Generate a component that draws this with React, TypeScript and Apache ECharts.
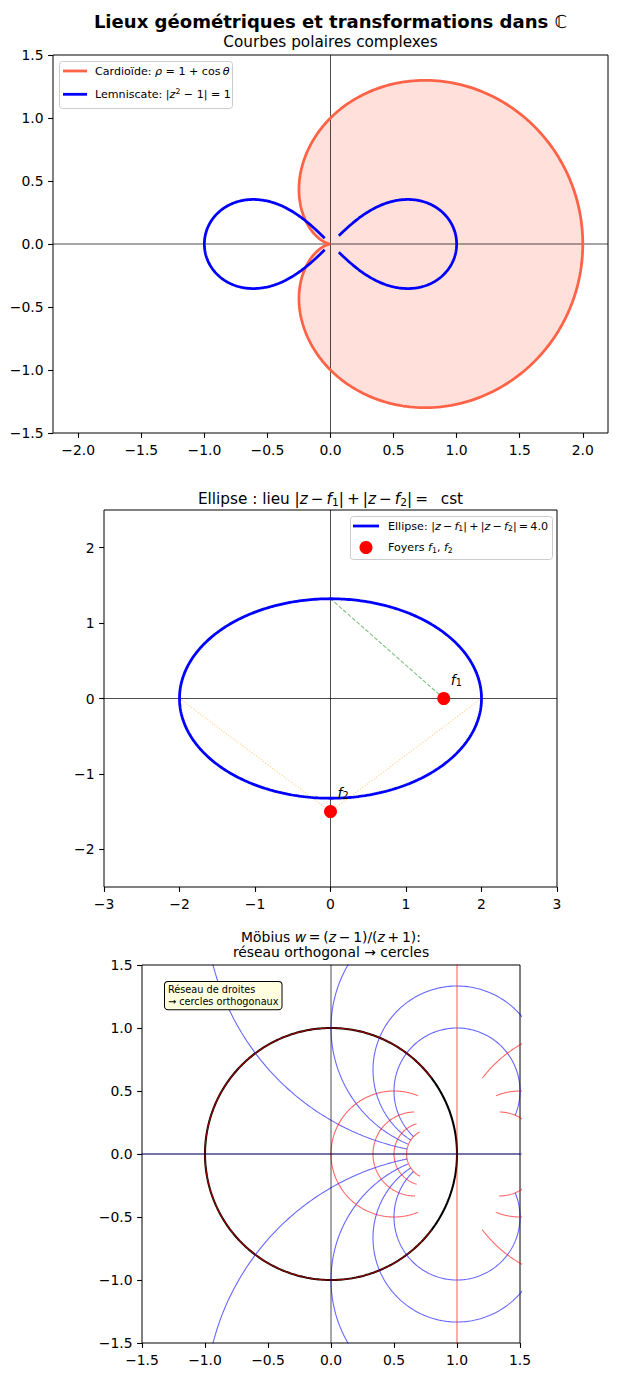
import React, { useEffect, useRef } from 'react';
import * as echarts from 'echarts';

const FONT = 'DejaVu Sans';
const TS = '\u2009'; // thin space used around math operators

// ---------------- Panel 1 : courbes polaires ----------------
const P1_X_RANGE = [-2.2, 2.2];
const P1_Y_RANGE = [-1.5, 1.5];
const P1_X_TICKS = [-2, -1.5, -1, -0.5, 0, 0.5, 1, 1.5, 2];
const P1_Y_TICKS = [-1.5, -1, -0.5, 0, 0.5, 1, 1.5];
const CARDIOID_COEF = [1, 1]; // rho = a + b cos(theta)
const LEMNISCATE_SCALE = 1; // rho^2 = s^2 cos(2 theta)
const LEMNISCATE_END_RADIUS = [0.093, 0.065]; // gap near origin: right lobe, left lobe

// ---------------- Panel 2 : ellipse ----------------
const P2_X_RANGE = [-3, 3];
const P2_Y_RANGE = [-2.5, 2.5];
const P2_X_TICKS = [-3, -2, -1, 0, 1, 2, 3];
const P2_Y_TICKS = [-2, -1, 0, 1, 2];
const ELLIPSE_FOCAL_HALF_DIST = 1.5; // drawn ellipse foci at ±1.5 on real axis
const ELLIPSE_SUM = 4.0;
const FOCI_LABELS = ['1', '2'];
const FOCI_X = [1.5, 0];
const FOCI_Y = [0, -1.5];
const ORANGE_ENDPOINTS_X = [-2, 2]; // dotted segments from these real points to f2

// ---------------- Panel 3 : Möbius ----------------
const P3_RANGE = [-1.5, 1.5];
const P3_TICKS = [-1.5, -1, -0.5, 0, 0.5, 1, 1.5];
const GRID_IM_VALUES = [-2, -1.5, -1, -0.5, 0, 0.5, 1, 1.5, 2]; // horizontal lines Im z = c
const GRID_IM_X_SPAN = [-4, 4];
const GRID_RE_VALUES = [-4, -3, -2, -1, 0, 1, 2, 3, 4]; // vertical lines Re z = c
const GRID_RE_Y_SPAN = [-3, 3];
const UNIT_CIRCLE_R = 1;

// ---------------- helpers ----------------
const linspace = (a: number, b: number, n: number) => {
  const out: number[] = [];
  for (let i = 0; i < n; i++) out.push(a + ((b - a) * i) / (n - 1));
  return out;
};
const fmt = (v: number, d: number) => (v < -1e-9 ? '−' : '') + Math.abs(v).toFixed(d);

const mobius = (x: number, y: number): [number, number] => {
  const d = (x + 1) * (x + 1) + y * y;
  return [(x * x + y * y - 1) / d, (2 * y) / d];
};

const cardioidPts: [number, number][] = linspace(0, 2 * Math.PI, 400).map((t) => {
  const r = CARDIOID_COEF[0] + CARDIOID_COEF[1] * Math.cos(t);
  return [r * Math.cos(t), r * Math.sin(t)];
});

const lemniscateLobe = (side: number, endR: number): [number, number][] => {
  const delta = Math.asin(Math.min(1, (endR / LEMNISCATE_SCALE) ** 2)) / 2;
  return linspace(-Math.PI / 4 + delta, Math.PI / 4 - delta, 300).map((t) => {
    const r = LEMNISCATE_SCALE * Math.sqrt(Math.max(0, Math.cos(2 * t)));
    return [side * r * Math.cos(t), r * Math.sin(t)];
  });
};

const ellA = ELLIPSE_SUM / 2;
const ellB = Math.sqrt(ellA * ellA - ELLIPSE_FOCAL_HALF_DIST ** 2);
const ellipsePts: [number, number][] = linspace(0, 2 * Math.PI, 400).map((t) => [
  ellA * Math.cos(t),
  ellB * Math.sin(t),
]);

const unitCircle: [number, number][] = linspace(0, 2 * Math.PI, 400).map((t) => [
  UNIT_CIRCLE_R * Math.cos(t),
  UNIT_CIRCLE_R * Math.sin(t),
]);

const txt = (size: number, extra: any = {}) => ({
  fontFamily: FONT,
  fontSize: size,
  lineHeight: Math.round(size * 1.2 * 10) / 10,
  fill: '#000',
  color: '#000',
  ...extra,
});
const richFor = (size: number, weight = 'normal') => {
  const lh = Math.round(size * 1.2 * 10) / 10;
  const base = { fontFamily: FONT, fontWeight: 'normal', fill: '#000', color: '#000' };
  return {
    i: { ...base, fontSize: size, lineHeight: lh, fontStyle: 'italic' },
    n: { ...base, fontSize: size, lineHeight: lh, fontWeight: weight },
    bb: { ...base, fontSize: size, lineHeight: lh },
    sub: { ...base, fontSize: size * 0.7, lineHeight: size * 0.78, verticalAlign: 'bottom' },
    sup: { ...base, fontSize: size * 0.7, lineHeight: size * 0.78, verticalAlign: 'top' },
  };
};
const op = (s: string) => TS + s + TS;

const makeAxis = (idx: number, range: number[], ticks: number[], dec: number, isX: boolean) => ({
  type: 'value',
  gridIndex: idx,
  min: range[0],
  max: range[1],
  position: isX ? 'bottom' : 'left',
  axisLine: { show: false, onZero: false },
  axisTick: {
    show: true,
    customValues: ticks,
    length: 4.9,
    lineStyle: { color: '#000', width: 1.1 },
  },
  axisLabel: {
    show: true,
    customValues: ticks,
    formatter: (v: number) => fmt(v, dec),
    color: '#000',
    fontFamily: FONT,
    fontSize: 13.9,
    margin: 9.5,
  },
  splitLine: { show: false },
});

const lineSeries = (gi: number, name: string, data: any[], color: string, width: number, extra: any = {}) => ({
  type: 'line',
  name,
  xAxisIndex: gi,
  yAxisIndex: gi,
  data,
  symbol: 'none',
  showSymbol: false,
  clip: true,
  silent: true,
  lineStyle: { color, width, ...(extra.lineStyle || {}) },
  z: extra.z ?? 2,
});

export default function App() {
  const ref = useRef<HTMLDivElement>(null);

  useEffect(() => {
    if (!ref.current) return;
    const chart = echarts.init(ref.current, null, { renderer: 'svg' });

    const series: any[] = [];

    // ---- Panel 1 ----
    series.push({
      type: 'custom',
      name: 'Cardioïde (remplissage)',
      xAxisIndex: 0,
      yAxisIndex: 0,
      data: [[0, 0]],
      silent: true,
      clip: true,
      z: 1,
      renderItem: (_p: any, api: any) => ({
        type: 'polygon',
        shape: { points: cardioidPts.map((p) => api.coord(p)) },
        style: { fill: 'rgba(255,99,71,0.2)', stroke: 'none' },
      }),
    });
    series.push(lineSeries(0, 'axe réel', [[P1_X_RANGE[0], 0], [P1_X_RANGE[1], 0]], '#000', 0.7));
    series.push(lineSeries(0, 'axe imaginaire', [[0, P1_Y_RANGE[0]], [0, P1_Y_RANGE[1]]], '#000', 0.7));
    series.push(lineSeries(0, 'Cardioïde: ρ = 1 + cos θ', cardioidPts, '#ff6347', 2.78, { z: 3 }));
    series.push(lineSeries(0, 'Lemniscate: |z² − 1| = 1', lemniscateLobe(1, LEMNISCATE_END_RADIUS[0]), '#0000ff', 2.78, { z: 4 }));
    series.push(lineSeries(0, 'Lemniscate: |z² − 1| = 1', lemniscateLobe(-1, LEMNISCATE_END_RADIUS[1]), '#0000ff', 2.78, { z: 4 }));

    // ---- Panel 2 ----
    series.push(lineSeries(1, 'axe réel', [[P2_X_RANGE[0], 0], [P2_X_RANGE[1], 0]], '#000', 0.7));
    series.push(lineSeries(1, 'axe imaginaire', [[0, P2_Y_RANGE[0]], [0, P2_Y_RANGE[1]]], '#000', 0.7));
    series.push(
      lineSeries(1, '|z − f1|', [[FOCI_X[0], FOCI_Y[0]], [0, ellB]], 'rgba(0,128,0,0.5)', 1.1, {
        lineStyle: { type: [4.1, 1.8] },
      })
    );
    ORANGE_ENDPOINTS_X.forEach((x) => {
      series.push(
        lineSeries(1, '|z − f2|', [[x, 0], [FOCI_X[1], FOCI_Y[1]]], 'rgba(255,165,0,0.5)', 1.1, {
          lineStyle: { type: [1.1, 1.8] },
        })
      );
    });
    series.push(lineSeries(1, 'Ellipse: |z − f1| + |z − f2| = 4.0', ellipsePts, '#0000ff', 2.78, { z: 3 }));
    series.push({
      type: 'scatter',
      name: 'Foyers f1, f2',
      xAxisIndex: 1,
      yAxisIndex: 1,
      symbol: 'circle',
      symbolSize: 13,
      silent: true,
      z: 5,
      itemStyle: { color: '#ff0000', opacity: 1 },
      data: FOCI_X.map((x, i) => ({
        value: [x, FOCI_Y[i]],
        label: {
          show: true,
          position: 'inside',
          align: 'left',
          verticalAlign: 'middle',
          offset: [7, -19],
          color: '#000',
          lineHeight: 16.7,
          formatter: '{i|f}{sub|' + FOCI_LABELS[i] + '}',
          rich: richFor(13.9),
        },
      })),
    });

    // ---- Panel 3 ----
    series.push(lineSeries(2, 'cercle unité', unitCircle, '#000', 2.08));
    GRID_IM_VALUES.forEach((c) => {
      const pts = linspace(GRID_IM_X_SPAN[0], GRID_IM_X_SPAN[1], 400).map((x) => mobius(x, c));
      series.push(lineSeries(2, 'Im z = ' + c, pts, 'rgba(0,0,255,0.6)', 1.1, { z: 3 }));
    });
    GRID_RE_VALUES.forEach((c) => {
      const pts = linspace(GRID_RE_Y_SPAN[0], GRID_RE_Y_SPAN[1], 400).map((y) => mobius(c, y));
      series.push(lineSeries(2, 'Re z = ' + c, pts, 'rgba(255,0,0,0.6)', 1.1, { z: 3 }));
    });
    series.push(lineSeries(2, 'axe réel', [[P3_RANGE[0], 0], [P3_RANGE[1], 0]], '#000', 0.7, { z: 4 }));
    series.push(lineSeries(2, 'axe imaginaire', [[0, P3_RANGE[0]], [0, P3_RANGE[1]]], '#000', 0.7, { z: 4 }));

    const graphic: any[] = [
      {
        type: 'text',
        x: 330.5,
        y: 21.6,
        style: {
          text: 'Lieux géométriques et transformations dans {bb|ℂ}',
          ...txt(18.06, { fontWeight: 'bold' }),
          align: 'center',
          verticalAlign: 'middle',
          rich: richFor(18.06, 'bold'),
        },
      },
      {
        type: 'text',
        x: 330.5,
        y: 42.3,
        style: { text: 'Courbes polaires complexes', ...txt(15.28), align: 'center', verticalAlign: 'middle' },
      },
      {
        type: 'text',
        x: 330.5,
        y: 498.6,
        style: {
          text: 'Ellipse : lieu |{i|z}' + op('−') + '{i|f}{sub|1}|' + op('+') + '|{i|z}' + op('−') + '{i|f}{sub|2}|' + op('=') + '  cst',
          ...txt(15.28),
          align: 'center',
          verticalAlign: 'middle',
          rich: richFor(15.28),
        },
      },
      {
        type: 'text',
        x: 331,
        y: 936.5,
        style: {
          text: 'Möbius {i|w}' + op('=') + '({i|z}' + op('−') + '1)/({i|z}' + op('+') + '1):',
          ...txt(13.9),
          align: 'center',
          verticalAlign: 'middle',
          rich: richFor(13.9),
        },
      },
      {
        type: 'text',
        x: 331,
        y: 952.4,
        style: { text: 'réseau orthogonal → cercles', ...txt(13.9), align: 'center', verticalAlign: 'middle' },
      },
      // legend 1
      {
        type: 'rect',
        shape: { x: 59.5, y: 61.5, width: 173, height: 47, r: 3 },
        style: { fill: 'rgba(255,255,255,0.8)', stroke: '#cccccc', lineWidth: 1 },
        z: 10,
      },
      { type: 'line', shape: { x1: 63, y1: 71, x2: 87, y2: 71 }, style: { stroke: '#ff6347', lineWidth: 2.78 }, z: 11 },
      {
        type: 'text',
        x: 95,
        y: 71,
        z: 11,
        style: {
          text: 'Cardioïde: {i|ρ} = 1 + cos' + TS + '{i|θ}',
          ...txt(11.1),
          verticalAlign: 'middle',
          rich: richFor(11.1),
        },
      },
      { type: 'line', shape: { x1: 63, y1: 94.3, x2: 87, y2: 94.3 }, style: { stroke: '#0000ff', lineWidth: 2.78 }, z: 11 },
      {
        type: 'text',
        x: 95,
        y: 94.3,
        z: 11,
        style: {
          text: 'Lemniscate: |{i|z}{sup|2} − 1| = 1',
          ...txt(11.1),
          verticalAlign: 'middle',
          rich: richFor(11.1),
        },
      },
      // legend 2
      {
        type: 'rect',
        shape: { x: 350.5, y: 516.5, width: 202, height: 43, r: 3 },
        style: { fill: 'rgba(255,255,255,0.8)', stroke: '#cccccc', lineWidth: 1 },
        z: 10,
      },
      { type: 'line', shape: { x1: 353, y1: 526, x2: 379, y2: 526 }, style: { stroke: '#0000ff', lineWidth: 2.78 }, z: 11 },
      {
        type: 'text',
        x: 388,
        y: 526,
        z: 11,
        style: {
          text: 'Ellipse: |{i|z}' + op('−') + '{i|f}{sub|1}|' + op('+') + '|{i|z}' + op('−') + '{i|f}{sub|2}|' + op('=') + '4.0',
          ...txt(11.1),
          verticalAlign: 'middle',
          rich: richFor(11.1),
        },
      },
      { type: 'circle', shape: { cx: 366, cy: 547.5, r: 6.5 }, style: { fill: '#ff0000' }, z: 11 },
      {
        type: 'text',
        x: 388,
        y: 547.5,
        z: 11,
        style: {
          text: 'Foyers {i|f}{sub|1}, {i|f}{sub|2}',
          ...txt(11.1),
          verticalAlign: 'middle',
          rich: richFor(11.1),
        },
      },
      // annotation panel 3
      {
        type: 'text',
        x: 165,
        y: 982,
        z: 11,
        style: {
          text: 'Réseau de droites\n→ cercles orthogonaux',
          ...txt(9.72),
          lineHeight: 11.6,
          backgroundColor: '#ffffe0',
          borderColor: '#000',
          borderWidth: 1,
          borderRadius: 3,
          padding: [2, 3, 2, 3],
          align: 'left',
          verticalAlign: 'top',
        },
      },
    ];

    chart.setOption({
      animation: false,
      backgroundColor: '#ffffff',
      grid: [
        { left: 53, top: 55, width: 555, height: 378, show: true, borderColor: '#000', borderWidth: 1, backgroundColor: 'transparent' },
        { left: 104, top: 510, width: 453, height: 377, show: true, borderColor: '#000', borderWidth: 1, backgroundColor: 'transparent' },
        { left: 142, top: 965, width: 378, height: 378, show: true, borderColor: '#000', borderWidth: 1, backgroundColor: 'transparent' },
      ],
      xAxis: [
        makeAxis(0, P1_X_RANGE, P1_X_TICKS, 1, true),
        makeAxis(1, P2_X_RANGE, P2_X_TICKS, 0, true),
        makeAxis(2, P3_RANGE, P3_TICKS, 1, true),
      ],
      yAxis: [
        makeAxis(0, P1_Y_RANGE, P1_Y_TICKS, 1, false),
        makeAxis(1, P2_Y_RANGE, P2_Y_TICKS, 0, false),
        makeAxis(2, P3_RANGE, P3_TICKS, 1, false),
      ],
      series,
      graphic,
    });

    return () => chart.dispose();
  }, []);

  return (
    <div
      ref={ref}
      style={{ position: 'absolute', left: 0, top: 0, width: 617, height: 1377, background: '#fff' }}
    />
  );
}
